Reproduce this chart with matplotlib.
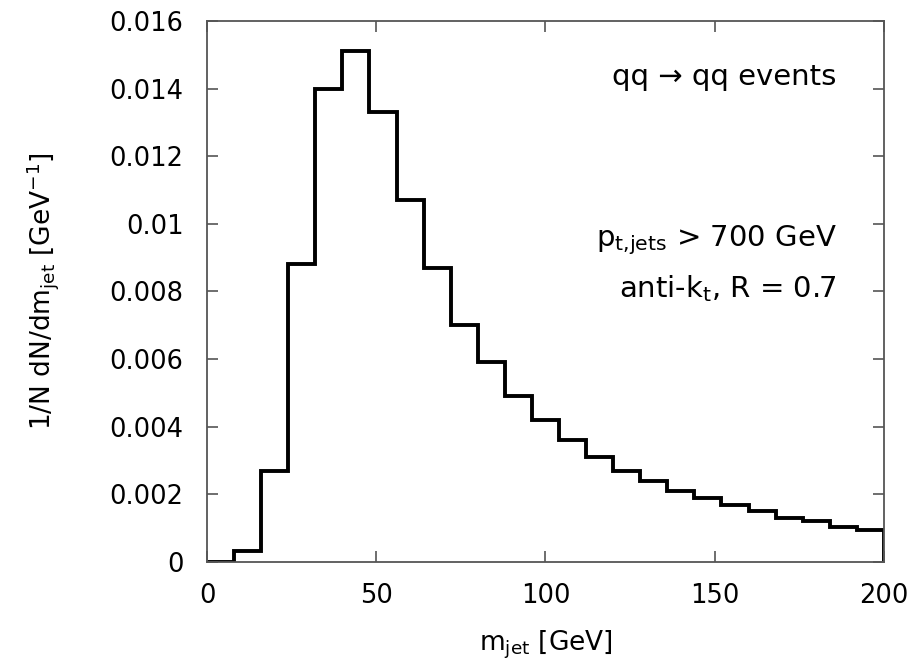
import numpy as np
import matplotlib
matplotlib.use('Agg')
import matplotlib.pyplot as plt

plt.rcParams['font.family'] = ['DejaVu Sans']
plt.rcParams['mathtext.default'] = 'regular'

# jet mass histogram, 8 GeV bins from 0 to 200
bin_edges = np.arange(0, 201, 8)
dn_dm = [0.0, 0.00033, 0.0027, 0.0088, 0.0140, 0.0151, 0.0133, 0.0107,
         0.0087, 0.0070, 0.0059, 0.0049, 0.0042, 0.0036, 0.0031, 0.0027,
         0.0024, 0.0021, 0.0019, 0.0017, 0.0015, 0.0013, 0.0012, 0.00104,
         0.00095]

x_ticks = [0, 50, 100, 150, 200]
y_ticks = [0, 0.002, 0.004, 0.006, 0.008, 0.01, 0.012, 0.014, 0.016]
y_tick_labels = ['0', '0.002', '0.004', '0.006', '0.008', '0.01', '0.012', '0.014', '0.016']

fig = plt.figure(figsize=(9.16, 6.68), dpi=100)
ax = fig.add_axes([0.226, 0.1587, 0.739, 0.8099])

ax.stairs(dn_dm, bin_edges, color='black', linewidth=2.8)

ax.set_xlim(0, 200)
ax.set_ylim(0, 0.016)
ax.set_xticks(x_ticks)
ax.set_yticks(y_ticks)
ax.set_yticklabels(y_tick_labels)

for s in ax.spines.values():
    s.set_color('#555555')
    s.set_linewidth(1.3)
ax.tick_params(direction='in', length=8, width=1.2, color='#555555',
               top=True, right=True, labelsize=18.5)
ax.tick_params(axis='y', pad=17)
ax.tick_params(axis='x', pad=15)

ax.set_xlabel(r'm$_{\mathrm{jet}}$ [GeV]', fontsize=19, labelpad=14)
ax.set_ylabel(r'1/N dN/dm$_{\mathrm{jet}}$ [GeV$^{\mathrm{-1}}$]', fontsize=19, labelpad=35)

ax.text(186, 0.01434, 'qq \u2192 qq events', ha='right', va='center', fontsize=21)
ax.text(186, 0.00952, r'p$_{\mathrm{t{,}jets}}$ > 700 GeV', ha='right', va='center', fontsize=21)
ax.text(186, 0.0081, r'anti-k$_{\mathrm{t}}$, R = 0.7', ha='right', va='center', fontsize=21)

fig.savefig('out.png', dpi=100)
